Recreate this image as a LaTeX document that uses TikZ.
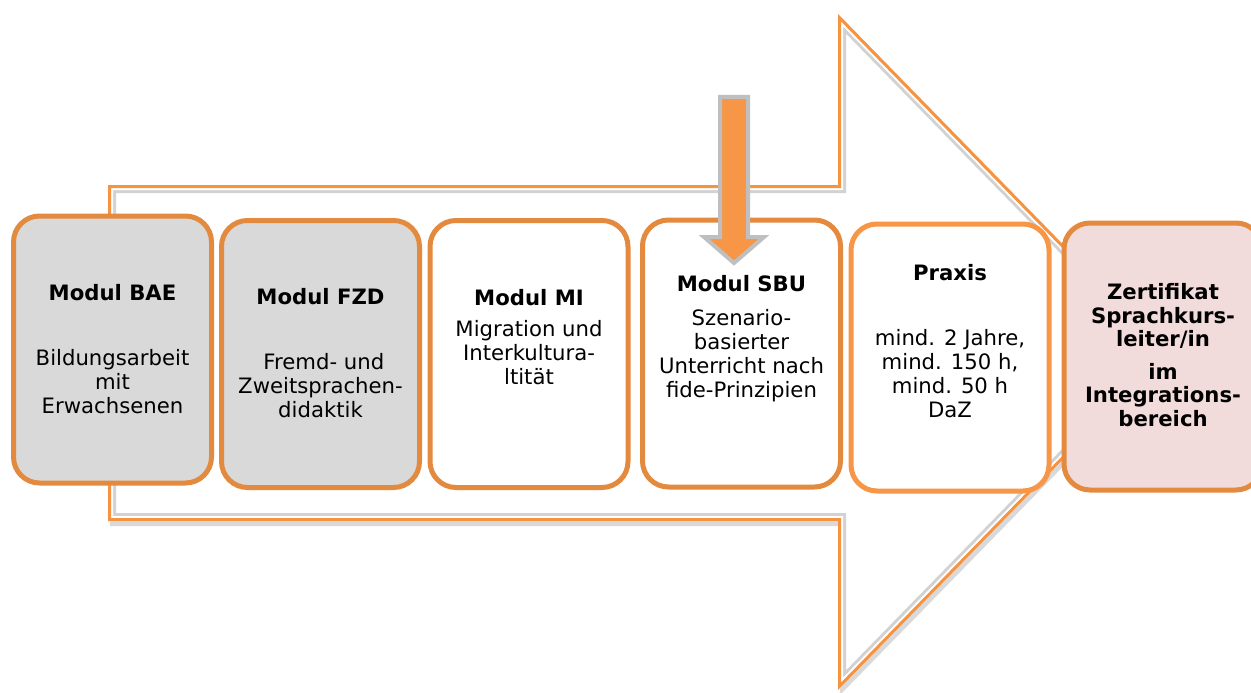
\documentclass[tikz,border=0pt]{standalone}
\usepackage{fontspec}
\setmainfont{DejaVu Sans}
\usetikzlibrary{positioning, shadows}

\definecolor{modulorange}{HTML}{E48A3F}
\definecolor{praxisorange}{HTML}{F79646}
\definecolor{arroworange}{HTML}{F59341}
\definecolor{modulgray}{HTML}{D9D9D9}
\definecolor{zertrose}{HTML}{F2DCDB}
\definecolor{pinborder}{HTML}{BFBFBF}

\begin{document}
\begin{tikzpicture}[x=1pt, y=-1pt,
		modul/.style = {rectangle, rounded corners=26pt, draw=modulorange,
			line width=5pt, minimum width=198pt, minimum height=267pt},
		txt/.style = {align=center, anchor=base, inner sep=0pt,
			font=\fontsize{21.2}{24}\selectfont}
                    ]
		\useasboundingbox (0,0) rectangle (1251,693);

		% corners of the big arrow
		\coordinate (a1) at (108,185);
		\coordinate (a2) at (838,185);
		\coordinate (a3) at (838,14);
		\coordinate (a4) at (1168,352);
		\coordinate (a5) at (838,690);
		\coordinate (a6) at (838,521);
		\coordinate (a7) at (108,521);

		\fill[white, drop shadow={opacity=0.3, shadow xshift=2pt, shadow yshift=-5pt}]
			(a1) -- (a2) -- (a3) -- (a4) -- (a5) -- (a6) -- (a7) -- cycle;
		\begin{scope}
			\clip (a1) -- (a2) -- (a3) -- (a4) -- (a5) -- (a6) -- (a7) -- cycle;
			\draw[gray!35, line width=16pt]
				(a1) -- (a2) -- (a3) -- (a4) -- (a5) -- (a6) -- (a7) -- cycle;
			\draw[white, line width=10pt]
				(a1) -- (a2) -- (a3) -- (a4) -- (a5) -- (a6) -- (a7) -- cycle;
			\draw[arroworange, line width=6pt]
				(a1) -- (a2) -- (a3) -- (a4) -- (a5) -- (a6) -- (a7) -- cycle;
		\end{scope}

		% the modules
		\node(bae) [modul, fill=modulgray] at (112.5,349.5) {};
		\node(fzd) [modul, fill=modulgray] at (320.5,354) {};
		\node(mi) [modul, fill=white] at (529,354) {};
		\node(sbu) [modul, fill=white] at (741.5,353.5) {};
		\node(praxis) [modul, draw=praxisorange, fill=white] at (950,357.5) {};
		\node(zert) [modul, fill=zertrose] at (1163,356.5) {};

		% texts, placed by the baseline of their last line
		\node [txt] at (bae |- 0,413) {\textbf{Modul BAE}\\[41pt]Bildungsarbeit\\mit\\Erwachsenen};
		\node [txt] at (fzd |- 0,417) {\textbf{Modul FZD}\\[41pt]\ Fremd- und\\Zweitsprachen-\\didaktik};
		\node [txt] at (mi |- 0,384) {\textbf{Modul MI}\\[7pt]Migration und\\Interkultura-\\ltität};
		\node [txt] at (sbu |- 0,397) {\textbf{Modul SBU}\\[10pt]Szenario-\\basierter\\Unterricht nach\\fide-Prinzipien};
		\node [txt] at (praxis |- 0,417) {\textbf{Praxis}\\[41pt]mind. 2 Jahre,\\mind. 150 h,\\mind. 50 h\\DaZ};
		\node [txt, font=\fontsize{21.2}{23.5}\selectfont\bfseries] at (zert |- 0,426)
			{Zertifikat\\Sprachkurs-\\leiter/in\\[9pt]im\\Integrations-\\bereich};

		% pointer onto SBU
		\filldraw[fill=praxisorange, draw=pinborder, line width=4pt]
			(720,97) -- (748,97) -- (748,237) -- (764,237) -- (734,263)
			-- (704,237) -- (720,237) -- cycle;
	\end{tikzpicture}
\end{document}
